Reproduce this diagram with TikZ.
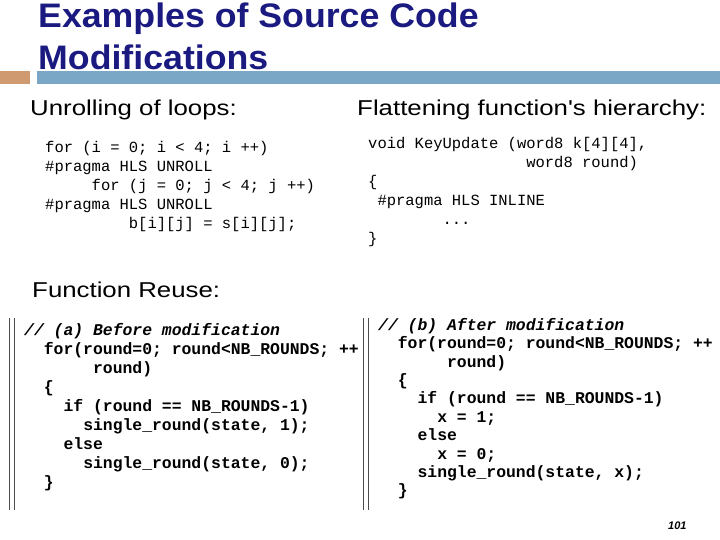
\documentclass[tikz,border=0pt]{standalone}
\usepackage{fontspec}
\setmainfont{Liberation Sans}
\newfontfamily\codefont{Liberation Mono}
\definecolor{TitleBlue}{HTML}{1A1A80}
\definecolor{BarBlue}{HTML}{7BA7C7}
\definecolor{BarOrange}{HTML}{D09A70}
\tikzset{
  titletext/.style={anchor=base west,inner sep=0pt,text=TitleBlue,xscale=1.05,font=\fontsize{34}{40}\selectfont\bfseries},
  headtext/.style={anchor=base west,inner sep=0pt,xscale=1.2,font=\fontsize{21.5}{24}\selectfont},
  loopcode/.style={anchor=north west,inner sep=0pt,align=left,font=\codefont\fontsize{15.5}{19}\selectfont},
  reusecode/.style={anchor=north west,inner sep=0pt,align=left,font=\codefont\bfseries\fontsize{16.4}{19}\selectfont},
  rulepair/.style={line width=0.8pt,black!70}
}
\begin{document}
\begin{tikzpicture}[x=1pt,y=-1pt]
\useasboundingbox[fill=white] (0,0) rectangle (720,540);

% title and bar
\node[titletext] (title1) at (38,28) {Examples of Source Code};
\node[titletext] (title2) at (38,70) {Modifications};
\fill[BarOrange] (0,71) rectangle (30,84);
\fill[BarBlue] (37,71) rectangle (720,84);

% headings
\node[headtext] (unroll) at (30,116) {Unrolling of loops:};
\node[headtext] (flatten) at (357,116) {Flattening function\textquotesingle s hierarchy:};
\node[headtext] (reuse) at (32,297) {Function Reuse:};

% loop unrolling
\node[loopcode] (loopsrc) at (45,141) {for~(i~=~0;~i~<~4;~i~++)\\
\#pragma~HLS~UNROLL\\
~~~~~for~(j~=~0;~j~<~4;~j~++)\\
\#pragma~HLS~UNROLL\\
~~~~~~~~~b[i][j]~=~s[i][j];};

% inlining
\node[loopcode] (inlinesrc) at (368,137) {void~KeyUpdate~(word8~k[4][4],\\
~~~~~~~~~~~~~~~~~word8~round)\\
\{\\
~\#pragma~HLS~INLINE\\
~~~~~~~~...\\
\}};

% function reuse
\draw[rulepair] (9,318) -- (9,510) (14,318) -- (14,510);
\draw[rulepair] (363,318) -- (363,510) (368,318) -- (368,510);
\node[reusecode] (before) at (24,323) {\itshape //~(a)~Before~modification\\
~~for(round=0;~round<NB\_ROUNDS;~++\\
~~~~~~~round)\\
~~\{\\
~~~~if~(round~==~NB\_ROUNDS-1)\\
~~~~~~single\_round(state,~1);\\
~~~~else\\
~~~~~~single\_round(state,~0);\\
~~\}};
\node[reusecode,font=\codefont\bfseries\fontsize{16.4}{18.4}\selectfont] (after) at (378,318) {\itshape //~(b)~After~modification\\
~~for(round=0;~round<NB\_ROUNDS;~++\\
~~~~~~~round)\\
~~\{\\
~~~~if~(round~==~NB\_ROUNDS-1)\\
~~~~~~x~=~1;\\
~~~~else\\
~~~~~~x~=~0;\\
~~~~single\_round(state,~x);\\
~~\}};

% page number
\node[anchor=base west,inner sep=0pt,font=\fontsize{11}{13}\selectfont\bfseries\itshape] (pagenum) at (668,529) {101};
\end{tikzpicture}
\end{document}
